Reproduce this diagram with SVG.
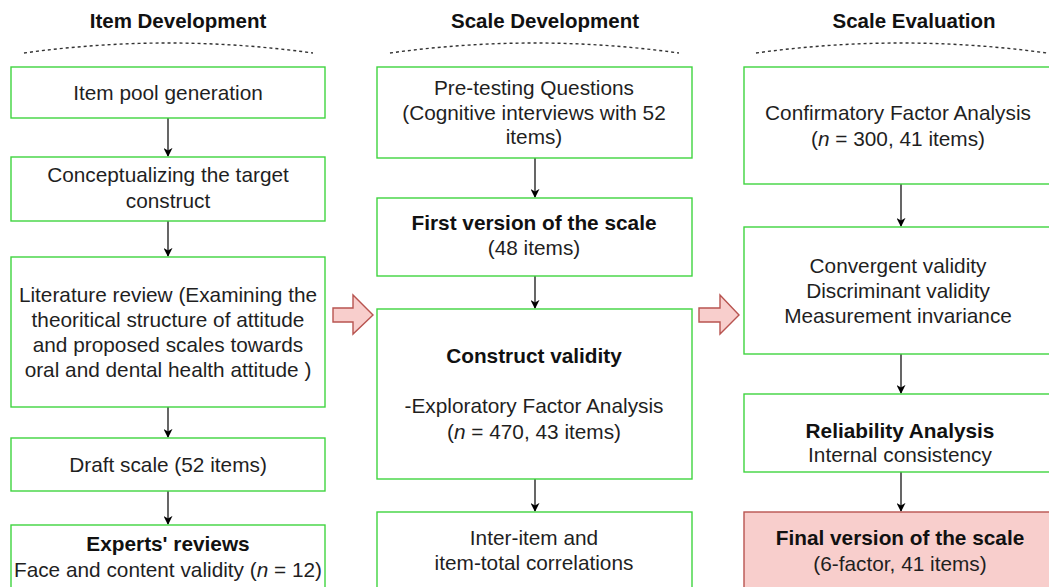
<svg xmlns="http://www.w3.org/2000/svg" width="1049" height="587" viewBox="0 0 1049 587">
<defs>
<marker id="ah" viewBox="0 0 10 10" refX="9" refY="5" markerWidth="9" markerHeight="9" markerUnits="userSpaceOnUse" orient="auto">
<path d="M0,0 L10,5 L0,10 L3,5 Z" fill="#000"/>
</marker>
<style>
text{font-family:"Liberation Sans",Arial,Helvetica,sans-serif;font-size:20.8px;fill:#1f1f1f;text-anchor:middle}
.t{font-weight:bold;font-size:20.5px;fill:#111}
.b{font-weight:bold;fill:#111}
.box{fill:#fff;stroke:#3fd43f;stroke-width:1.4}
.fin{fill:#f8cecc;stroke:#b85450;stroke-width:1.4}
.arc{fill:none;stroke:#333;stroke-width:1.4;stroke-dasharray:3 3}
.con{stroke:#000;stroke-width:1.2;fill:none}
.blk{fill:#f8cecc;stroke:#b85450;stroke-width:1.4}
</style>
</defs>
<rect width="1049" height="587" fill="#fff"/>

<g id="headers">
<text class="t" x="178" y="28">Item Development</text>
<text class="t" x="545" y="28">Scale Development</text>
<text class="t" x="914" y="28">Scale Evaluation</text>
<path class="arc" d="M24,53 Q168,33 313,53"/>
<path class="arc" d="M390,53 Q535,33 679,53"/>
<path class="arc" d="M756,53 Q901,33 1047,53"/>
</g>

<g id="connectors">
<line class="con" x1="168" y1="118" x2="168" y2="156" marker-end="url(#ah)"/>
<line class="con" x1="168" y1="221" x2="168" y2="256" marker-end="url(#ah)"/>
<line class="con" x1="168" y1="407" x2="168" y2="437" marker-end="url(#ah)"/>
<line class="con" x1="168" y1="491" x2="168" y2="524" marker-end="url(#ah)"/>
<line class="con" x1="535" y1="158" x2="535" y2="197" marker-end="url(#ah)"/>
<line class="con" x1="535" y1="276" x2="535" y2="308" marker-end="url(#ah)"/>
<line class="con" x1="535" y1="479" x2="535" y2="511" marker-end="url(#ah)"/>
<line class="con" x1="901" y1="184" x2="901" y2="226" marker-end="url(#ah)"/>
<line class="con" x1="901" y1="354" x2="901" y2="393" marker-end="url(#ah)"/>
<line class="con" x1="901" y1="472" x2="901" y2="511" marker-end="url(#ah)"/>
<polygon class="blk" points="333,308 353,308 353,295 373,315 353,334 353,322 333,322"/>
<polygon class="blk" points="699,308 720,308 720,295 739,315 720,334 720,322 699,322"/>
</g>

<g id="n1"><rect class="box" x="11" y="67" width="314" height="51"/><text x="168" y="100">Item pool generation</text></g>
<g id="n2"><rect class="box" x="11" y="157" width="314" height="64"/><text x="168" y="182">Conceptualizing the target</text><text x="168" y="208">construct</text></g>
<g id="n3"><rect class="box" x="11" y="257" width="314" height="150"/>
<text x="168" y="302">Literature review (Examining the</text>
<text x="168" y="327">theoritical structure of attitude</text>
<text x="168" y="352">and proposed scales towards</text>
<text x="168" y="377">oral and dental health attitude )</text></g>
<g id="n4"><rect class="box" x="11" y="438" width="314" height="53"/><text x="168" y="472">Draft scale (52 items)</text></g>
<g id="n5"><rect class="box" x="11" y="525" width="314" height="70"/><text class="b" x="168" y="551">Experts' reviews</text><text x="168" y="577">Face and content validity (<tspan font-style="italic">n</tspan> = 12)</text></g>

<g id="m1"><rect class="box" x="377" y="67" width="315" height="91"/>
<text x="534" y="95">Pre-testing Questions</text>
<text x="534" y="120">(Cognitive interviews with 52</text>
<text x="534" y="144">items)</text></g>
<g id="m2"><rect class="box" x="377" y="198" width="315" height="78"/><text class="b" x="534" y="230">First version of the scale</text><text x="534" y="255">(48 items)</text></g>
<g id="m3"><rect class="box" x="377" y="309" width="315" height="170"/>
<text class="b" x="534" y="363">Construct validity</text>
<text x="534" y="413">-Exploratory Factor Analysis</text>
<text x="534" y="439">(<tspan font-style="italic">n</tspan> = 470, 43 items)</text></g>
<g id="m4"><rect class="box" x="377" y="512" width="315" height="85"/><text x="534" y="545">Inter-item and</text><text x="534" y="570">item-total correlations</text></g>

<g id="e1"><rect class="box" x="744" y="67" width="314" height="117"/>
<text x="898" y="120">Confirmatory Factor Analysis</text>
<text x="898" y="146">(<tspan font-style="italic">n</tspan> = 300, 41 items)</text></g>
<g id="e2"><rect class="box" x="744" y="227" width="314" height="127"/>
<text x="898" y="273">Convergent validity</text>
<text x="898" y="298">Discriminant validity</text>
<text x="898" y="323">Measurement invariance</text></g>
<g id="e3"><rect class="box" x="744" y="394" width="314" height="78"/><text class="b" x="900" y="438">Reliability Analysis</text><text x="900" y="462">Internal consistency</text></g>
<g id="e4"><rect class="fin" x="744" y="512" width="314" height="85"/><text class="b" x="900" y="545">Final version of the scale</text><text x="900" y="571">(6-factor, 41 items)</text></g>
</svg>
